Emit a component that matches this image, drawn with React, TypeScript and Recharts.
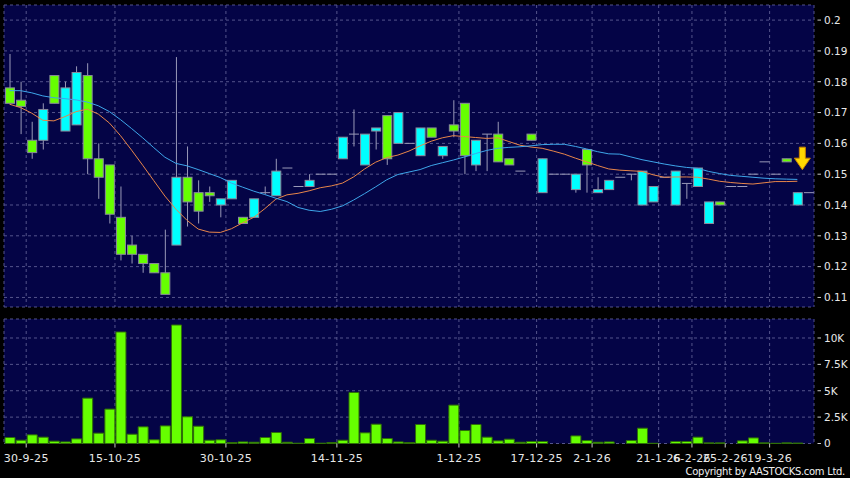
import React from "react";
import {
  ComposedChart,
  Bar,
  Line,
  XAxis,
  YAxis,
  CartesianGrid,
  ReferenceDot,
} from "recharts";

// daily candles, index 0 = first trading day shown
const opens = [
  0.178, 0.174, 0.161, 0.161, 0.182, 0.164, 0.166, 0.182, 0.155, 0.153,
  0.136, 0.127, 0.124, 0.121, 0.118, 0.127, 0.149, 0.144, 0.144, 0.14,
  0.142, 0.136, 0.136, 0.144, 0.143, 0.152, 0.146, 0.146, 0.15, 0.15,
  0.155, 0.163, 0.153, 0.164, 0.169, 0.16, 0.16, 0.156, 0.165, 0.156,
  0.166, 0.173, 0.153, 0.163, 0.163, 0.155, 0.151, 0.163, 0.144, 0.15,
  0.15, 0.145, 0.158, 0.144, 0.145, 0.149, 0.15, 0.14, 0.141, 0.149,
  0.14, 0.147, 0.146, 0.134, 0.141, 0.146, 0.146, 0.15, 0.154, 0.15,
  0.155, 0.14, 0.144,
];
const highs = [
  0.189, 0.18, 0.167, 0.173, 0.182, 0.18, 0.185, 0.186, 0.16, 0.153,
  0.146, 0.13, 0.124, 0.121, 0.132, 0.188, 0.159, 0.148, 0.146, 0.142,
  0.148, 0.136, 0.142, 0.146, 0.155, 0.152, 0.146, 0.15, 0.15, 0.15,
  0.162, 0.171, 0.163, 0.165, 0.169, 0.17, 0.16, 0.165, 0.165, 0.159,
  0.174, 0.173, 0.161, 0.163, 0.167, 0.155, 0.151, 0.163, 0.155, 0.15,
  0.15, 0.15, 0.158, 0.149, 0.148, 0.149, 0.15, 0.151, 0.146, 0.149,
  0.151, 0.147, 0.152, 0.141, 0.141, 0.146, 0.146, 0.15, 0.154, 0.15,
  0.155, 0.144, 0.144,
];
const lows = [
  0.173, 0.163, 0.155, 0.158, 0.173, 0.164, 0.166, 0.15, 0.142, 0.134,
  0.122, 0.121, 0.118, 0.118, 0.111, 0.127, 0.133, 0.134, 0.141, 0.136,
  0.142, 0.134, 0.136, 0.1435, 0.143, 0.152, 0.146, 0.146, 0.15, 0.15,
  0.155, 0.159, 0.153, 0.158, 0.153, 0.16, 0.16, 0.156, 0.162, 0.155,
  0.162, 0.15, 0.151, 0.151, 0.154, 0.153, 0.151, 0.161, 0.144, 0.15,
  0.15, 0.144, 0.144, 0.144, 0.145, 0.149, 0.148, 0.14, 0.141, 0.149,
  0.14, 0.142, 0.146, 0.134, 0.14, 0.146, 0.146, 0.15, 0.154, 0.15,
  0.154, 0.14, 0.144,
];
const closes = [
  0.173, 0.172, 0.157, 0.171, 0.173, 0.178, 0.183, 0.155, 0.149, 0.137,
  0.124, 0.124, 0.121, 0.118, 0.111, 0.149, 0.141, 0.138, 0.143, 0.142,
  0.148, 0.134, 0.142, 0.144, 0.151, 0.152, 0.146, 0.148, 0.15, 0.15,
  0.162, 0.163, 0.163, 0.165, 0.155, 0.17, 0.16, 0.165, 0.162, 0.159,
  0.164, 0.156, 0.161, 0.163, 0.154, 0.153, 0.151, 0.161, 0.155, 0.15,
  0.15, 0.15, 0.153, 0.145, 0.148, 0.149, 0.15, 0.151, 0.146, 0.149,
  0.151, 0.147, 0.152, 0.141, 0.14, 0.146, 0.146, 0.15, 0.154, 0.15,
  0.154, 0.144, 0.144,
];

// short (orange) and long (blue) moving averages
const maShort = [
  0.1727, 0.1716, 0.1698, 0.1675, 0.1673, 0.1687, 0.1703, 0.1711, 0.1695, 0.1666,
  0.1625, 0.1578, 0.1529, 0.1479, 0.1429, 0.1386, 0.135, 0.1322, 0.1312, 0.1311,
  0.1323, 0.1342, 0.136, 0.1388, 0.1419, 0.1433, 0.1438, 0.1446, 0.1456, 0.1462,
  0.1471, 0.1491, 0.1517, 0.1539, 0.1554, 0.1562, 0.1575, 0.1592, 0.1607, 0.1618,
  0.1625, 0.1622, 0.1619, 0.1616, 0.1618, 0.1606, 0.1594, 0.1588, 0.1584, 0.1575,
  0.1565, 0.1552, 0.154, 0.1528, 0.1517, 0.1513, 0.1511, 0.1509, 0.1498, 0.149,
  0.1491, 0.1491, 0.149, 0.1484, 0.1477, 0.1473, 0.147, 0.1468, 0.1472, 0.1476,
  0.1476, 0.1477, null,
];
const maLong = [
  0.1771, 0.1771, 0.1764, 0.1754, 0.1748, 0.1745, 0.1741, 0.1734, 0.1722, 0.1703,
  0.1677, 0.1648, 0.1618, 0.1586, 0.1555, 0.1535, 0.1527, 0.1515, 0.1502, 0.1489,
  0.1471, 0.1458, 0.1445, 0.1434, 0.1422, 0.1411, 0.1392, 0.1383, 0.1379, 0.1386,
  0.1397, 0.1416, 0.1437, 0.1459, 0.1482, 0.1499, 0.1507, 0.1515, 0.1528, 0.1537,
  0.1546, 0.1556, 0.1567, 0.1577, 0.1584, 0.1587, 0.1589, 0.1592, 0.1596, 0.1597,
  0.1597, 0.159, 0.1582, 0.1573, 0.1566, 0.1565, 0.1556, 0.1547, 0.154, 0.1533,
  0.1527, 0.1522, 0.1519, 0.1509, 0.1502, 0.1496, 0.1493, 0.149, 0.1487, 0.1485,
  0.1484, 0.1483, null,
];

const volumes = [
  570, 310, 820, 600, 220, 150, 440, 4300, 980, 3260,
  10570, 880, 1580, 350, 1670, 11230, 2530, 1640, 310, 350,
  90, 150, 120, 570, 1040, 120, 30, 470, 30, 90,
  310, 4840, 1010, 1830, 470, 150, 90, 1800, 310, 220,
  3640, 1230, 1800, 600, 250, 410, 120, 190, 190, 0,
  0, 720, 280, 120, 150, 0, 280, 1450, 20, 0,
  190, 190, 600, 60, 60, 0, 250, 530, 60, 20,
  60, 40, 0,
];

const dateTicks = [1.5, 9.5, 19.5, 29.5, 40.5, 47.5, 52.5, 58.5, 61.5, 64.5, 68.5];
const dateLabels = [
  "30-9-25", "15-10-25", "30-10-25", "14-11-25", "1-12-25", "17-12-25",
  "2-1-26", "21-1-26", "6-2-26", "25-2-26", "19-3-26",
];
const priceTicks = [0.11, 0.12, 0.13, 0.14, 0.15, 0.16, 0.17, 0.18, 0.19, 0.2];
const volumeTicks = [0, 2500, 5000, 7500, 10000];

// sell signal marker
const arrowAt = { x: 71.45, y: 0.1552 };

const Y_MIN = 0.1069;
const Y_MAX = 0.2049;
const X_DOMAIN = [-0.5, 72.5];

const BG = "#040446";
const GRID = "#55558c";
const WICK = "#9a9ab8";
const UP = "#00ffff";
const DOWN = "#66ff00";
const FONT = "DejaVu Sans";

const rows = opens.map((o, i) => ({
  i,
  o,
  h: highs[i],
  l: lows[i],
  c: closes[i],
  maS: maShort[i],
  maL: maLong[i],
  vol: volumes[i],
}));

function Candle(props: any) {
  const { x, y, width, height, payload } = props;
  if (!payload || height == null) return null;
  const { o, h, l, c } = payload;
  // bar runs from the axis floor up to the high; reuse its pixel scale
  const k = height / (h - Y_MIN);
  const py = (v: number) => y + (h - v) * k;
  const cx = x + width / 2;
  const top = py(Math.max(o, c));
  const bot = py(Math.min(o, c));
  return (
    <g>
      {h > l && <line x1={cx} x2={cx} y1={py(h)} y2={py(l)} stroke={WICK} strokeWidth={1} />}
      {o === c ? (
        <line x1={x} x2={x + width} y1={top} y2={top} stroke={WICK} strokeWidth={1} />
      ) : (
        <rect
          x={x + 0.5}
          y={top}
          width={width - 1}
          height={Math.max(bot - top, 1)}
          fill={c > o ? UP : DOWN}
          stroke="#8a8a9c"
          strokeWidth={1}
        />
      )}
    </g>
  );
}

function Arrow(props: any) {
  const { cx, cy } = props;
  const d = `M${cx - 3},${cy - 11} L${cx + 3},${cy - 11} L${cx + 3},${cy} L${cx + 8},${cy} L${cx},${cy + 11.5} L${cx - 8},${cy} L${cx - 3},${cy} Z`;
  return <path d={d} fill="#ffd800" stroke="#c88400" strokeWidth={1} />;
}

function RightTick(props: any) {
  const { x, y, payload, fmt } = props;
  return (
    <g>
      <line x1={x + 3.5} x2={x + 7} y1={y} y2={y} stroke="#c8c8c8" />
      <text x={x + 10} y={y} dy="0.36em" fill="#e8e8e8" fontSize={10.5} fontFamily={FONT}>
        {fmt(payload.value)}
      </text>
    </g>
  );
}

const priceFmt = (v: number) => String(v);
const volFmt = (v: number) => (v === 0 ? "0" : `${v / 1000}K`);
const dateFmt = (v: number) => dateLabels[dateTicks.indexOf(v)] ?? "";

export default function App() {
  return (
    <div
      style={{
        position: "absolute",
        left: 0,
        top: 0,
        width: 850,
        height: 478,
        background: "#000",
        fontFamily: FONT,
      }}
    >
      <div style={{ position: "absolute", left: 0, top: 0 }}>
        <ComposedChart width={850} height={310} data={rows} margin={{ top: 5, right: 0, bottom: 3, left: 4 }}>
          <CartesianGrid fill={BG} stroke={GRID} strokeDasharray="3 3" />
          <XAxis
            dataKey="i"
            type="number"
            domain={X_DOMAIN}
            ticks={dateTicks}
            interval={0}
            hide
          />
          <YAxis
            orientation="right"
            width={36}
            domain={[Y_MIN, Y_MAX]}
            ticks={priceTicks}
            interval={0}
            axisLine={false}
            tickLine={false}
            tickSize={0}
            tickMargin={0}
            tick={<RightTick fmt={priceFmt} />}
          />
          <Bar dataKey="h" barSize={10} shape={<Candle />} isAnimationActive={false} />
          <Line
            dataKey="maS"
            type="linear"
            stroke="#e8864a"
            strokeWidth={1}
            dot={false}
            activeDot={false}
            isAnimationActive={false}
          />
          <Line
            dataKey="maL"
            type="linear"
            stroke="#3ea6ea"
            strokeWidth={1}
            dot={false}
            activeDot={false}
            isAnimationActive={false}
          />
          <ReferenceDot x={arrowAt.x} y={arrowAt.y} shape={<Arrow />} />
        </ComposedChart>
      </div>
      <div style={{ position: "absolute", left: 0, top: 310 }}>
        <ComposedChart width={850} height={168} data={rows} margin={{ top: 9, right: 0, bottom: 14.5, left: 4 }}>
          <CartesianGrid fill={BG} stroke={GRID} strokeDasharray="3 3" />
          <XAxis
            dataKey="i"
            type="number"
            domain={X_DOMAIN}
            ticks={dateTicks}
            interval={0}
            height={20}
            axisLine={false}
            tickSize={4}
            tickMargin={6.5}
            tickLine={{ stroke: "#c8c8c8" }}
            tickFormatter={dateFmt}
            tick={{ fill: "#e8e8e8", fontSize: 11, fontFamily: FONT, letterSpacing: 0.3 }}
          />
          <YAxis
            orientation="right"
            width={36}
            domain={[0, 11800]}
            ticks={volumeTicks}
            interval={0}
            axisLine={false}
            tickLine={false}
            tickSize={0}
            tickMargin={0}
            tick={<RightTick fmt={volFmt} />}
          />
          <Bar
            dataKey="vol"
            barSize={10}
            fill={DOWN}
            stroke="#2f6e08"
            strokeWidth={1}
            isAnimationActive={false}
          />
        </ComposedChart>
      </div>
      <div
        style={{
          position: "absolute",
          right: 5,
          top: 465,
          fontSize: 10,
          lineHeight: "13px",
          letterSpacing: -0.3,
          color: "#f0f0f0",
          fontFamily: FONT,
        }}
      >
        Copyright by AASTOCKS.com Ltd.
      </div>
    </div>
  );
}
